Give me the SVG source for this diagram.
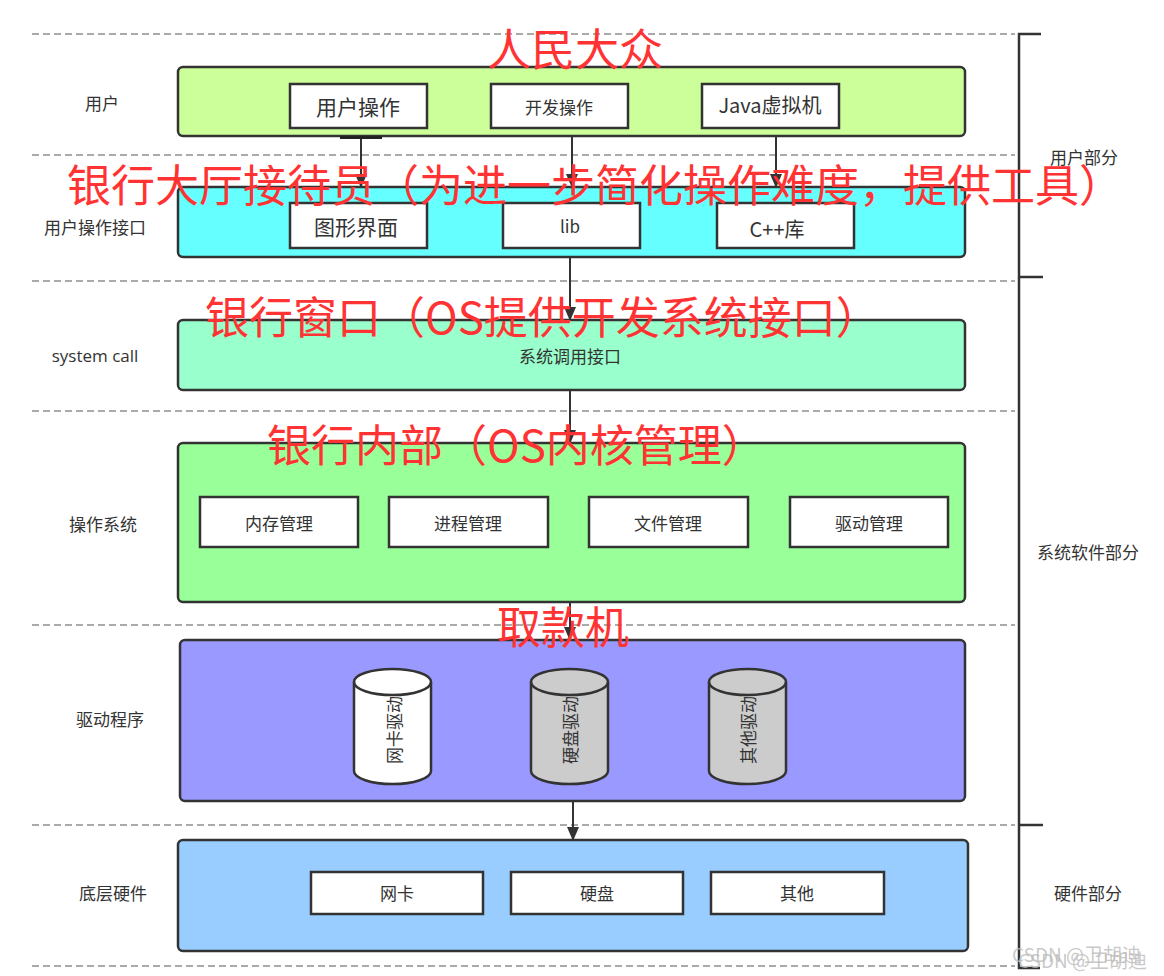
<svg xmlns="http://www.w3.org/2000/svg" width="1164" height="976" viewBox="0 0 1164 976">
<defs>
<style>
.dash{stroke:#aaa;stroke-width:2;stroke-dasharray:7,4;fill:none}
.layer{stroke:#333;stroke-width:2.5}
.inner{fill:#fff;stroke:#333;stroke-width:2.5}
.t{font-family:"Noto Sans CJK SC","Noto Sans",sans-serif;fill:#333;text-anchor:middle;dominant-baseline:central}
.lbl{font-size:17px}
.red{font-family:"Noto Sans CJK SC","Noto Sans",sans-serif;fill:#ff3333;font-size:44px;dominant-baseline:central}
.conn{stroke:#333;stroke-width:2;fill:none}
.cyl{stroke:#333;stroke-width:2.5}
</style>
<marker id="ah" markerWidth="14" markerHeight="12" refX="13" refY="6" orient="auto" markerUnits="userSpaceOnUse">
<path d="M0,0 L14,6 L0,12 Z" fill="#333"/>
</marker>
</defs>
<rect width="1164" height="976" fill="#fff"/>

<g id="guides">
<line class="dash" x1="32" y1="34" x2="1015" y2="34"/>
<line class="dash" x1="32" y1="155" x2="1015" y2="155"/>
<line class="dash" x1="32" y1="281" x2="1015" y2="281"/>
<line class="dash" x1="32" y1="411" x2="1015" y2="411"/>
<line class="dash" x1="32" y1="625" x2="1015" y2="625"/>
<line class="dash" x1="32" y1="825" x2="1015" y2="825"/>
<line class="dash" x1="32" y1="966" x2="1015" y2="966"/>
</g>

<g id="bracket" stroke="#333" stroke-width="2.5" fill="none">
<path d="M1041,34 H1019 V968 H1040"/>
<line x1="1019" y1="277" x2="1043" y2="277"/>
<line x1="1019" y1="825" x2="1043" y2="825"/>
</g>

<g id="side-labels">
<text class="t lbl" x="102" y="102">用户</text>
<text class="t lbl" x="95" y="226">用户操作接口</text>
<text class="t lbl" x="95" y="355" style="font-family:'Open Sans','Noto Sans',sans-serif">system call</text>
<text class="t lbl" x="103" y="523">操作系统</text>
<text class="t lbl" x="110" y="718">驱动程序</text>
<text class="t lbl" x="113" y="892">底层硬件</text>
<text class="t lbl" x="1084" y="156">用户部分</text>
<text class="t lbl" x="1088" y="551">系统软件部分</text>
<text class="t lbl" x="1088" y="892">硬件部分</text>
</g>

<g id="connectors">
<line class="conn" x1="361" y1="138" x2="361" y2="187" marker-end="url(#ah)"/>
<line class="conn" x1="572" y1="136" x2="572" y2="187" marker-end="url(#ah)"/>
<line class="conn" x1="776" y1="136" x2="776" y2="187" marker-end="url(#ah)"/>
<line class="conn" x1="570" y1="257" x2="570" y2="320" marker-end="url(#ah)"/>
<line class="conn" x1="570" y1="390" x2="570" y2="443" marker-end="url(#ah)"/>
<line class="conn" x1="570" y1="602" x2="570" y2="640" marker-end="url(#ah)"/>
<line class="conn" x1="573" y1="801" x2="573" y2="840" marker-end="url(#ah)"/>
</g>

<g id="layer-user">
<rect class="layer" x="178" y="67" width="787" height="69" rx="5" fill="#ccff99"/>
<rect x="340" y="136" width="42" height="3" fill="#222"/>
</g>
<g id="node-user-op"><rect class="inner" x="290" y="84" width="137" height="44"/><text class="t" x="358" y="106" font-size="21">用户操作</text></g>
<g id="node-dev-op"><rect class="inner" x="491" y="84" width="137" height="44"/><text class="t" x="559" y="106" font-size="17">开发操作</text></g>
<g id="node-jvm"><rect class="inner" x="702" y="84" width="137" height="44"/><text class="t" x="770" y="104" font-size="20">Java虚拟机</text></g>

<g id="layer-ui">
<rect class="layer" x="178" y="187" width="787" height="70" rx="5" fill="#66ffff"/>
</g>
<g id="node-gui"><rect class="inner" x="290" y="203" width="137" height="45"/><text class="t" x="356" y="226" font-size="21">图形界面</text></g>
<g id="node-lib"><rect class="inner" x="503" y="203" width="137" height="45"/><text class="t" x="570" y="225" font-size="17">lib</text></g>
<g id="node-cpp"><rect class="inner" x="717" y="203" width="137" height="45"/><text class="t" x="777" y="228" font-size="20">C++库</text></g>

<g id="layer-syscall">
<rect class="layer" x="178" y="320" width="787" height="70" rx="5" fill="#99ffcc"/>
<text class="t" x="570" y="355" font-size="17">系统调用接口</text>
</g>

<g id="layer-os">
<rect class="layer" x="178" y="443" width="787" height="159" rx="5" fill="#99ff99"/>
</g>
<g id="node-mem"><rect class="inner" x="200" y="497" width="158" height="50"/><text class="t" x="279" y="522" font-size="17">内存管理</text></g>
<g id="node-proc"><rect class="inner" x="389" y="497" width="159" height="50"/><text class="t" x="468" y="522" font-size="17">进程管理</text></g>
<g id="node-file"><rect class="inner" x="589" y="497" width="159" height="50"/><text class="t" x="668" y="522" font-size="17">文件管理</text></g>
<g id="node-drvmgr"><rect class="inner" x="790" y="497" width="158" height="50"/><text class="t" x="869" y="522" font-size="17">驱动管理</text></g>

<g id="layer-driver">
<rect class="layer" x="180" y="640" width="785" height="161" rx="5" fill="#9999ff"/>
</g>
<g id="node-nic-drv">
<path class="cyl" d="M354,682 V771 A38.5,13 0 0 0 431,771 V682 A38.5,13 0 0 0 354,682 Z" fill="#fff"/>
<path class="cyl" d="M354,682 A38.5,13 0 0 0 431,682" fill="none"/>
<text class="t" font-size="17" transform="translate(393,730) rotate(-90)">网卡驱动</text>
</g>
<g id="node-disk-drv">
<path class="cyl" d="M531,682 V771 A38.5,13 0 0 0 608,771 V682 A38.5,13 0 0 0 531,682 Z" fill="#cccccc"/>
<path class="cyl" d="M531,682 A38.5,13 0 0 0 608,682" fill="none"/>
<text class="t" font-size="17" transform="translate(569,730) rotate(-90)">硬盘驱动</text>
</g>
<g id="node-other-drv">
<path class="cyl" d="M709,682 V771 A38.5,13 0 0 0 786,771 V682 A38.5,13 0 0 0 709,682 Z" fill="#cccccc"/>
<path class="cyl" d="M709,682 A38.5,13 0 0 0 786,682" fill="none"/>
<text class="t" font-size="17" transform="translate(747,730) rotate(-90)">其他驱动</text>
</g>

<g id="layer-hw">
<rect class="layer" x="178" y="840" width="790" height="111" rx="5" fill="#99ccff"/>
</g>
<g id="node-nic"><rect class="inner" x="311" y="872" width="172" height="42"/><text class="t" x="397" y="892" font-size="17">网卡</text></g>
<g id="node-disk"><rect class="inner" x="511" y="872" width="172" height="42"/><text class="t" x="597" y="892" font-size="17">硬盘</text></g>
<g id="node-other"><rect class="inner" x="711" y="872" width="173" height="42"/><text class="t" x="797" y="892" font-size="17">其他</text></g>

<g id="annotations">
<text class="red" x="575" y="47" text-anchor="middle">人民大众</text>
<text class="red" x="67" y="183">银行大厅接待员（为进一步简化操作难度，提供工具）</text>
<text class="red" x="205" y="315">银行窗口（OS提供开发系统接口）</text>
<text class="red" x="267" y="443">银行内部（OS内核管理）</text>
<text class="red" x="563" y="625" text-anchor="middle">取款机</text>
</g>

<g id="watermark" font-family="'Noto Sans CJK SC','Noto Sans',sans-serif" font-size="19" fill="#bbb" fill-opacity="0.8">
<text x="1012" y="962">CSDN @卫胡迪</text>
<text x="1018" y="968">CSDN @卫胡迪</text>
</g>
</svg>
